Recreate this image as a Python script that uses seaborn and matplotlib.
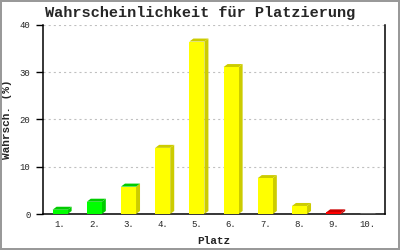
import matplotlib
matplotlib.use("Agg")
import matplotlib.pyplot as plt
import seaborn as sns
import pandas as pd
from matplotlib.patches import Polygon, Rectangle

places = ["1.", "2.", "3.", "4.", "5.", "6.", "7.", "8.", "9.", "10."]
probs = [0.9, 2.6, 5.8, 14.0, 36.5, 31.1, 7.6, 1.7, 0.35, 0.0]
front_colors = ["#00FF00", "#00FF00", "#FFFF00", "#FFFF00", "#FFFF00",
                "#FFFF00", "#FFFF00", "#FFFF00", "#FF0000", "#FF0000"]
side_colors = ["#00CC00", "#00CC00", "#CCCC00", "#CCCC00", "#CCCC00",
               "#CCCC00", "#CCCC00", "#CCCC00", "#CC0000", "#CC0000"]
top_colors = ["#00CC00", "#00CC00", "#00CC00", "#CCCC00", "#CCCC00",
              "#CCCC00", "#CCCC00", "#CCCC00", "#CC0000", "#CC0000"]
yticks = [0, 10, 20, 30, 40]

sns.set_style("white")
plt.rcParams["font.family"] = ["Liberation Mono", "DejaVu Sans Mono"]
plt.rcParams["lines.scale_dashes"] = False

df = pd.DataFrame({"Platz": places, "Wahrsch": probs})

fig = plt.figure(figsize=(4, 2.5), dpi=100)
fig.patch.set_facecolor("white")
ax = fig.add_axes([43 / 400, 36 / 250, 342 / 400, 189 / 250])

sns.barplot(data=df, x="Platz", y="Wahrsch", hue="Platz", order=places,
            hue_order=places, palette=front_colors, width=0.44,
            saturation=1, legend=False, ax=ax, zorder=3)

ax.set_xlim(-0.5, len(places) - 0.5)
ax.set_ylim(0, 40)
ax.set_yticks(yticks)
ax.set_yticklabels([str(t) for t in yticks], fontsize=6.5)
ax.tick_params(axis="y", length=5, width=1.0, color="black", pad=4, left=True)
ax.tick_params(axis="x", length=0, pad=4, labelsize=6.5)

ax.yaxis.grid(True, color="#c0c0c0", linestyle=(0, (1.5, 2.2)), linewidth=0.8, zorder=0)
ax.xaxis.grid(False)
ax.set_axisbelow(True)

for s in ["left", "bottom", "right"]:
    ax.spines[s].set_visible(True)
    ax.spines[s].set_color("black")
    ax.spines[s].set_linewidth(1.1)
ax.spines["top"].set_visible(False)

ax.set_xlabel("Platz", fontsize=8, fontweight="bold", labelpad=5)
ax.set_ylabel("Wahrsch. (%)", fontsize=8, fontweight="bold")
ax.yaxis.set_label_coords((12 - 43) / 342, 0.5)

fig.canvas.draw()
inv = ax.transData.inverted()
x0d, y0d = inv.transform((0, 0))
x1d, y1d = inv.transform((4, 3))
ddx, ddy = x1d - x0d, y1d - y0d

for i, p in enumerate(ax.patches):
    h = p.get_height()
    if h <= 0:
        continue
    x = p.get_x()
    w = p.get_width()
    p.set_edgecolor("none")
    side = Polygon([(x + w, 0), (x + w + ddx, ddy), (x + w + ddx, h + ddy), (x + w, h)],
                   closed=True, facecolor=side_colors[i], edgecolor="none", zorder=2.9)
    top = Polygon([(x, h), (x + w, h), (x + w + ddx, h + ddy), (x + ddx, h + ddy)],
                  closed=True, facecolor=top_colors[i], edgecolor="none", zorder=2.9)
    ax.add_patch(side)
    ax.add_patch(top)

fig.text(0.5, 1 - 13 / 250, "Wahrscheinlichkeit für Platzierung", ha="center",
         va="center", fontsize=11, fontweight="bold")

fig.add_artist(Rectangle((1 / 400, 1 / 250), 398 / 400, 248 / 250, transform=fig.transFigure,
                         fill=False, edgecolor="#999999", linewidth=1.44))

fig.savefig("out.png", dpi=100)
